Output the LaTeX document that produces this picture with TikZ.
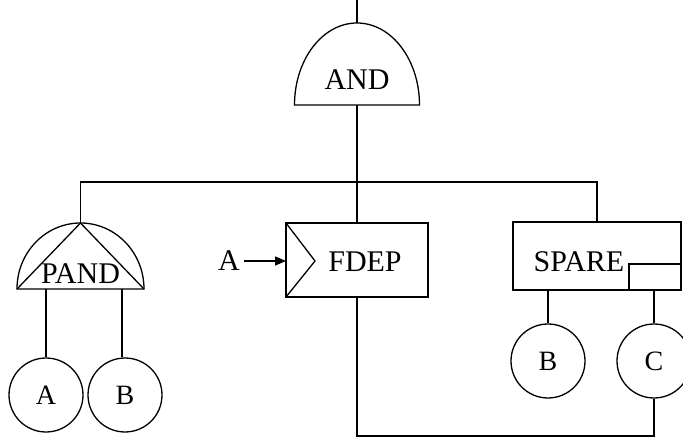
\documentclass[tikz,border=0pt]{standalone}
\usepackage{fontspec}
\setmainfont{Liberation Serif}
\usetikzlibrary{arrows.meta}

\tikzset{
  lbl/.style={font=\fontsize{30}{34}\selectfont},
  gatebox/.style={draw, inner sep=0pt, outer sep=0pt},
  basic/.style={draw, circle, minimum size=74pt, inner sep=0pt, font=\fontsize{28}{32}\selectfont},
}

\begin{document}
\begin{tikzpicture}[x=1pt, y=-1pt, line width=1.3pt]
  \useasboundingbox (0,0) rectangle (683,438);
  % top gate
  \coordinate (top) at (357,0);
  \coordinate (andT) at (357,23);
  \coordinate (andB) at (357,105);
  \draw (294.5,105) arc[start angle=180, end angle=360, x radius=62.5, y radius=82] -- cycle;
  \node[lbl] (and) at (357,80) {AND};
  \draw (top) -- (andT);
  % priority and
  \coordinate (pandT) at (80.5,223);
  \coordinate (pl) at (46,289);
  \coordinate (pr) at (122,289);
  \draw (17,289) arc[start angle=180, end angle=360, x radius=63.5, y radius=66] -- cycle;
  \draw (17,289) -- (pandT) -- (144,289);
  \node[lbl] (pand) at (80.5,274) {PAND};
  % functional dependency
  \node[gatebox, minimum width=142pt, minimum height=74pt] (fdep) at (357,260) {};
  \draw (fdep.north west) -- (315,261) -- (fdep.south west);
  \node[lbl] (fdeptxt) at (365,262) {FDEP};
  \node[lbl, inner sep=4pt] (trig) at (229,261) {A};
  \draw[-{Triangle[length=11pt, width=9pt]}] (trig.east) -- (trig.east -| fdep.west);
  % spare
  \node[gatebox, minimum width=168pt, minimum height=68pt] (spare) at (597,256) {};
  \draw ([xshift=-52pt]spare.south east) |- ([yshift=26pt]spare.south east);
  \node[lbl] (sparetxt) at (579,262) {SPARE};
  \coordinate (sl) at (548,290);
  \coordinate (sr) at (654,290);
  % basic events
  \node[basic] (a) at (46,395) {A};
  \node[basic] (b) at (125,395) {B};
  \node[basic] (b2) at (548,361) {B};
  \node[basic] (c) at (654,361) {C};
  % connections
  \coordinate (bus) at (357,182);
  \draw (andB) -- (bus);
  \draw (pandT) |- (bus) -| (spare.north);
  \draw (bus) -- (fdep.north);
  \draw (pl) -- (pl |- a.north);
  \draw (pr) -- (pr |- b.north);
  \draw (sl) -- (b2.north);
  \draw (sr) -- (c.north);
  \coordinate (lo) at (357,436);
  \draw (fdep.south) -- (lo) -| (c.south);
\end{tikzpicture}
\end{document}
